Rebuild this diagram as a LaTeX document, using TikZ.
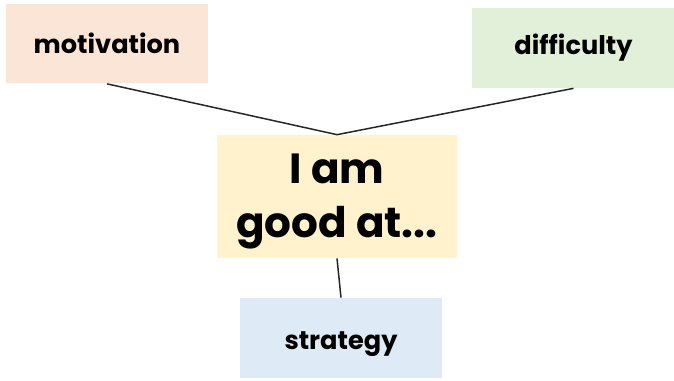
\documentclass[tikz,border=0pt]{standalone}
\usepackage{fontspec}
\setmainfont{Poppins}
\usepackage{xcolor}
\usetikzlibrary{positioning}
\definecolor{peach}{HTML}{FBE5D6}
\definecolor{sage}{HTML}{E2F0D9}
\definecolor{cream}{HTML}{FFF2CC}
\definecolor{sky}{HTML}{DEEBF7}
\begin{document}
\begin{tikzpicture}[
    x=0.02cm, y=-0.02cm,
    aspect/.style={rectangle, minimum width=4.06cm, minimum height=1.6cm, font=\fontsize{14.6}{17}\selectfont\bfseries, inner sep=0pt},
    core/.style={rectangle, fill=cream, minimum width=4.8cm, minimum height=2.46cm, font=\fontsize{24}{31}\selectfont\bfseries, align=center, inner sep=0pt},
    link/.style={draw=black!85, line width=0.85pt}
]
    \useasboundingbox (0,0) rectangle (674,380);
    % Outer aspects
    \node[aspect, fill=peach] (motivation) at (107,43.5) {motivation};
    \node[aspect, fill=sage] (difficulty) at (573.5,48) {difficulty};
    \node[aspect, fill=sky, text height=15pt, text depth=1.4pt] (strategy) at (341,338) {strategy};

    % Centre
    \node[core, text height=49pt, text depth=2pt] (good) at (337,196.5) {I am\\good at...};

    % Links
    \draw[link] (motivation.south) -- (good.north) -- (difficulty.south);
    \draw[link] (good.south) -- (strategy.north);
\end{tikzpicture}
\end{document}
